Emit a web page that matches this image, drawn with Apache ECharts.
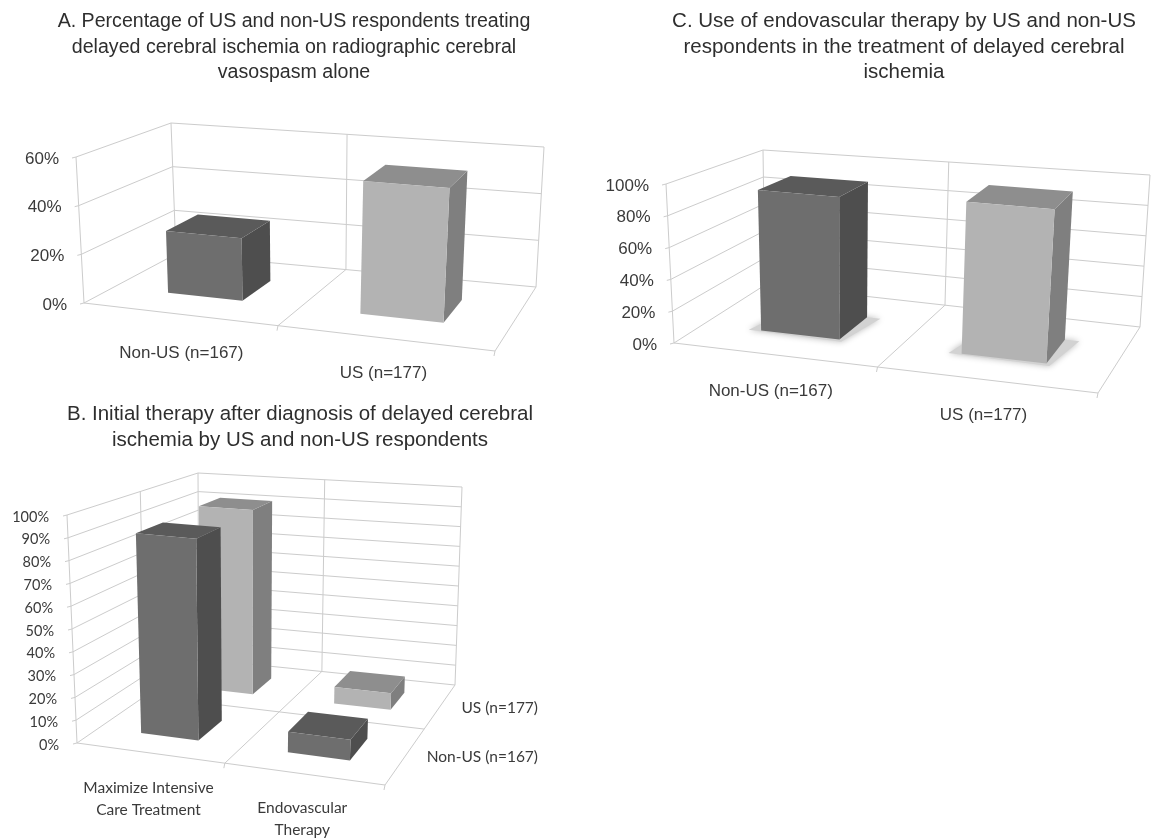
<!DOCTYPE html>
<html>
<head>
<meta charset="utf-8">
<title>Delayed cerebral ischemia survey</title>
<script src="https://cdn.jsdelivr.net/npm/echarts@6/dist/echarts.min.js"></script>
<style>
  html, body { margin: 0; padding: 0; background: #fff; }
  #main { width: 1151px; height: 840px; }
</style>
</head>
<body>
<div id="main"></div>
<script>
// 图表数据
const panelATitle = "A. Percentage of US and non-US respondents treating\ndelayed cerebral ischemia on radiographic cerebral\nvasospasm alone";
const panelACategories = ["Non-US (n=167)", "US (n=177)"];
const panelAValues = [26, 54];
const panelATicks = [0, 20, 40, 60];

const panelCTitle = "C. Use of endovascular therapy by US and non-US\nrespondents in the treatment of delayed cerebral\nischemia";
const panelCCategories = ["Non-US (n=167)", "US (n=177)"];
const panelCValues = [92, 96];
const panelCTicks = [0, 20, 40, 60, 80, 100];

const panelBTitle = "B. Initial therapy after diagnosis of delayed cerebral\nischemia by US and non-US respondents";
const panelBCategories = ["Maximize Intensive\nCare Treatment", "Endovascular\nTherapy"];
const panelBNonUS = [90, 9];
const panelBUS = [91, 8];
const panelBRows = ["Non-US (n=167)", "US (n=177)"];
const panelBTicks = [0, 10, 20, 30, 40, 50, 60, 70, 80, 90, 100];

const DARK = { front: "#6e6e6e", top: "#5a5a5a", side: "#4e4e4e" };
const LIGHT = { front: "#b3b3b3", top: "#8e8e8e", side: "#7f7f7f" };
const GRID_LINE = "#cccccc";
const TEXT = "#3a3a3a";

// 每个面板的透视盒子：f/b 前后，l/r 左右，0/1 底顶
const panelA = {
  grid: { left: 84, top: 157, width: 412, height: 146 },
  fl0: [84, 303], fr0: [495, 351], bl0: [176, 254], br0: [536, 287],
  fl1: [76, 157], fr1: [505, 194], bl1: [171, 123], br1: [544, 147],
  perspU: 0.894, perspW: 1, halfU: 0.1, font: "Liberation Sans", fontSize: 17, tickFontSize: 17,
  labelDx: [3, 0], labelDy: [39, 35], tickGap: 17
};
const panelC = {
  grid: { left: 674, top: 184, width: 424, height: 159 },
  fl0: [674, 343], fr0: [1098, 393], bl0: [765, 285], br0: [1140, 327],
  fl1: [666, 184], fr1: [1110, 225], bl1: [763, 150], br1: [1150, 175],
  perspU: 0.923, perspW: 1, halfU: 0.1, font: "Liberation Sans", fontSize: 17, tickFontSize: 17,
  labelDx: [-3, -2], labelDy: [37, 36], tickGap: 17, shadow: true
};
const panelB = {
  grid: { left: 77, top: 515, width: 308, height: 228 },
  fl0: [77, 743], fr0: [385, 785], bl0: [199, 659], br0: [455, 685],
  fl1: [67, 515], fr1: [395, 545], bl1: [198, 473], br1: [462, 487],
  perspU: 0.923, perspW: 1.27, halfU: 0.1, font: "Lato", fontSize: 15.5, tickFontSize: 14.5,
  labelDx: [-1, -1], labelDy: [46, 45], tickGap: 18, midDepth: true
};

const lerp = (a, b, t) => [a[0] + (b[0] - a[0]) * t, a[1] + (b[1] - a[1]) * t];
const persp = (t, a) => (a * t) / (1 + (a - 1) * t);

// 单位坐标 (u, v, w) 投影到透视盒子
function project(p, u, v, w) {
  const U = persp(u, p.perspU);
  const W = persp(w, p.perspW);
  const bottom = lerp(lerp(p.fl0, p.fr0, U), lerp(p.bl0, p.br0, U), W);
  const top = lerp(lerp(p.fl1, p.fr1, U), lerp(p.bl1, p.br1, U), W);
  return lerp(bottom, top, v);
}

function line(a, b) {
  return {
    type: "line",
    shape: { x1: a[0], y1: a[1], x2: b[0], y2: b[1] },
    style: { stroke: GRID_LINE, lineWidth: 1 }
  };
}

function text(p, str, x, y, align, size) {
  const fontSize = size || p.fontSize;
  return {
    type: "text",
    style: {
      text: str, x: x, y: y, fill: TEXT, align: align, textAlign: align,
      verticalAlign: "middle", textVerticalAlign: "middle",
      fontFamily: p.font, fontSize: fontSize, lineHeight: fontSize + 6
    }
  };
}

function poly(points, fill) {
  return { type: "polygon", shape: { points: points }, style: { fill: fill } };
}

// 墙面网格线和刻度文字
function frameSeries(gridIndex, p, ticks) {
  return {
    type: "custom",
    xAxisIndex: gridIndex,
    yAxisIndex: gridIndex,
    z: 1,
    silent: true,
    data: ticks.map(t => [0, t]),
    renderItem(params, api) {
      const rect = params.coordSys;
      const value = api.value(1);
      const v = (rect.y + rect.height - api.coord([0, value])[1]) / rect.height;
      const fl = project(p, 0, v, 0);
      const children = [
        line(fl, project(p, 0, v, 1)),
        line(project(p, 0, v, 1), project(p, 1, v, 1)),
        line([fl[0] - 4, fl[1] + 1], fl),
        text(p, value + "%", fl[0] - p.tickGap, fl[1] + 2, "right", p.tickFontSize)
      ];
      if (params.dataIndex === 0) {
        children.push(
          line(project(p, 0, 0, 0), project(p, 0, 1, 0)),
          line(project(p, 0, 0, 1), project(p, 0, 1, 1)),
          line(project(p, 1, 0, 1), project(p, 1, 1, 1)),
          line(project(p, 0.5, 0, 1), project(p, 0.5, 1, 1)),
          line(project(p, 0, 0, 0), project(p, 1, 0, 0)),
          line(project(p, 1, 0, 0), project(p, 1, 0, 1)),
          line(project(p, 0.5, 0, 0), project(p, 0.5, 0, 1))
        );
        const a = project(p, 0.5, 0, 0);
        const b = project(p, 1, 0, 0);
        children.push(line(a, [a[0] - 1, a[1] + 5]), line(b, [b[0] - 1, b[1] + 5]));
        if (p.midDepth) {
          children.push(
            line(project(p, 0, 0, 0.5), project(p, 1, 0, 0.5)),
            line(project(p, 0, 0, 0.5), project(p, 0, 1, 0.5))
          );
        }
      }
      return { type: "group", children: children };
    }
  };
}

// 类别文字
function categorySeries(gridIndex, p, categories) {
  return {
    type: "custom",
    xAxisIndex: gridIndex,
    yAxisIndex: gridIndex,
    z: 1,
    silent: true,
    data: categories.map((c, i) => [i, 0]),
    renderItem(params, api) {
      const rect = params.coordSys;
      const i = api.value(0);
      const u = (api.coord([i, 0])[0] - rect.x) / rect.width;
      const pos = project(p, u, 0, 0);
      return text(p, categories[i], pos[0] + p.labelDx[i], pos[1] + p.labelDy[i], "center");
    }
  };
}

// 立体柱子
function barSeries(gridIndex, p, values, colors, depthFrom, depthTo) {
  return {
    type: "custom",
    xAxisIndex: gridIndex,
    yAxisIndex: gridIndex,
    z: 2,
    silent: true,
    data: values.map((v, i) => [i, v]),
    renderItem(params, api) {
      const rect = params.coordSys;
      const pos = api.coord([api.value(0), api.value(1)]);
      const u = (pos[0] - rect.x) / rect.width;
      const v = (rect.y + rect.height - pos[1]) / rect.height;
      const u0 = u - p.halfU;
      const u1 = u + p.halfU;
      const c = colors[params.dataIndex];
      const P = (uu, vv, ww) => project(p, uu, vv, ww);
      const children = [];
      if (p.shadow) {
        const s = poly([
          P(u0 - 0.03, 0, depthFrom - 0.01), P(u1 + 0.01, 0, depthFrom - 0.03),
          P(u1 + 0.035, 0, depthTo), P(u0, 0, depthTo)
        ], "#d2d2d2");
        s.style.shadowBlur = 6;
        s.style.shadowColor = "#bbbbbb";
        children.push(s);
      }
      children.push(
        poly([P(u1, 0, depthFrom), P(u1, 0, depthTo), P(u1, v, depthTo), P(u1, v, depthFrom)], c.side),
        poly([P(u0, v, depthFrom), P(u1, v, depthFrom), P(u1, v, depthTo), P(u0, v, depthTo)], c.top),
        poly([P(u0, 0, depthFrom), P(u1, 0, depthFrom), P(u1, v, depthFrom), P(u0, v, depthFrom)], c.front)
      );
      return { type: "group", children: children };
    }
  };
}

function hiddenX(gridIndex, categories) {
  return { type: "category", gridIndex: gridIndex, data: categories, show: false };
}
function hiddenY(gridIndex, ticks) {
  const max = ticks[ticks.length - 1];
  return { type: "value", gridIndex: gridIndex, min: 0, max: max, interval: ticks[1], show: false };
}
function rowLabels(gridIndex, p, rows) {
  // B 图右侧的深度文字
  return {
    type: "custom",
    xAxisIndex: gridIndex,
    yAxisIndex: gridIndex,
    z: 1,
    silent: true,
    data: rows.map(() => [1, 0]),
    renderItem(params) {
      const i = params.dataIndex;
      const pos = project(p, 1, 0, i === 0 ? 0.25 : 0.75);
      return text(p, rows[i], 538, pos[1] + 2, "right");
    }
  };
}

const titleStyleA = { fontFamily: "Liberation Sans", fontSize: 19.6, fontWeight: "normal", color: "#2e2e2e", lineHeight: 25.5 };
const titleStyleBC = { fontFamily: "Liberation Sans", fontSize: 20.5, fontWeight: "normal", color: "#2e2e2e", lineHeight: 25.5 };

const option = {
  backgroundColor: "#ffffff",
  animation: false,
  title: [
    { text: panelATitle, left: 289, top: 4, textAlign: "center", textStyle: titleStyleA },
    { text: panelCTitle, left: 899, top: 4, textAlign: "center", textStyle: titleStyleBC },
    { text: panelBTitle, left: 295, top: 397, textAlign: "center", textStyle: titleStyleBC }
  ],
  grid: [panelA.grid, panelC.grid, panelB.grid],
  xAxis: [hiddenX(0, panelACategories), hiddenX(1, panelCCategories), hiddenX(2, panelBCategories)],
  yAxis: [hiddenY(0, panelATicks), hiddenY(1, panelCTicks), hiddenY(2, panelBTicks)],
  series: [
    frameSeries(0, panelA, panelATicks),
    categorySeries(0, panelA, panelACategories),
    barSeries(0, panelA, panelAValues, [DARK, LIGHT], 0.33, 0.7),

    frameSeries(1, panelC, panelCTicks),
    categorySeries(1, panelC, panelCCategories),
    barSeries(1, panelC, panelCValues, [DARK, LIGHT], 0.33, 0.7),

    frameSeries(2, panelB, panelBTicks),
    categorySeries(2, panelB, panelBCategories),
    rowLabels(2, panelB, panelBRows),
    barSeries(2, panelB, panelBUS, [LIGHT, LIGHT], 0.65, 0.85),
    barSeries(2, panelB, panelBNonUS, [DARK, DARK], 0.15, 0.35)
  ]
};

const myChart = echarts.init(document.getElementById("main"), null, { renderer: "canvas" });
myChart.setOption(option);
</script>
</body>
</html>
